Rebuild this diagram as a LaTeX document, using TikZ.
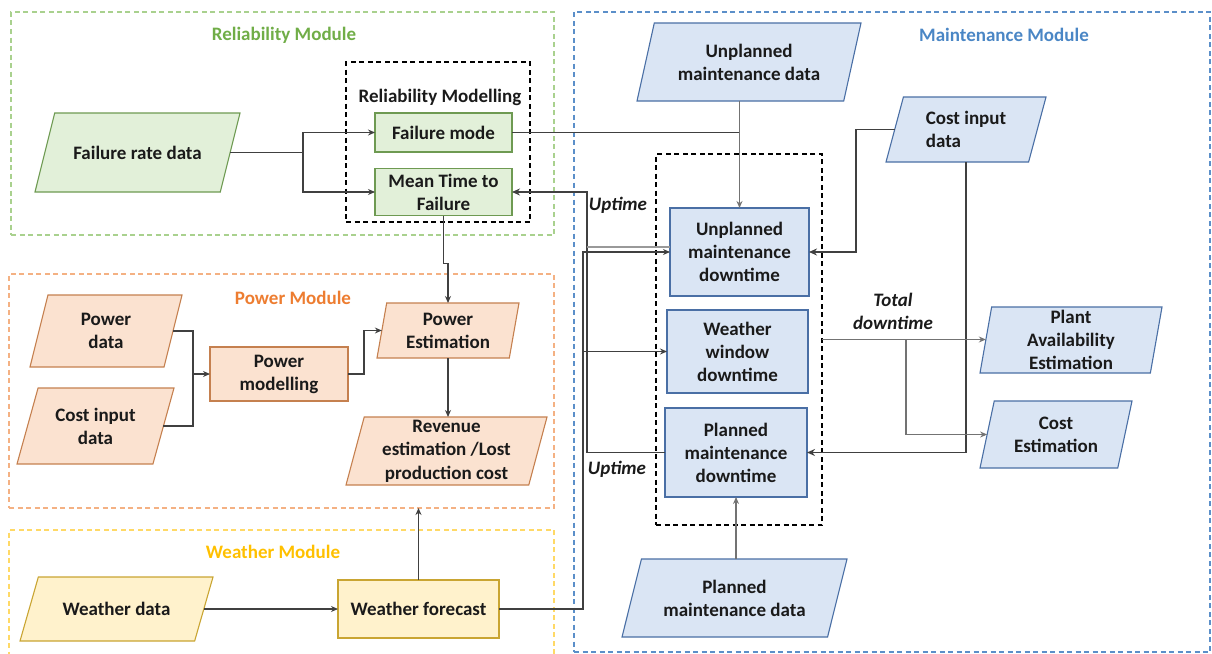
\documentclass[tikz,border=0pt]{standalone}
\usepackage{fontspec}
\setmainfont{Carlito}
\usetikzlibrary{shapes.geometric,arrows.meta,calc}

% fills and outlines of the four modules
\definecolor{grnF}{HTML}{E2F0D9}\definecolor{grnD}{HTML}{6E9A52}\definecolor{grnT}{HTML}{70AD47}\definecolor{grnM}{HTML}{A9D18E}
\definecolor{orgF}{HTML}{FBE2D0}\definecolor{orgD}{HTML}{C5804F}\definecolor{orgT}{HTML}{ED7D31}\definecolor{orgM}{HTML}{F4B183}
\definecolor{ylwF}{HTML}{FFF2CC}\definecolor{ylwD}{HTML}{C9A532}\definecolor{ylwT}{HTML}{FFC000}\definecolor{ylwM}{HTML}{FFD966}
\definecolor{bluF}{HTML}{DAE5F4}\definecolor{bluD}{HTML}{4A6FA5}\definecolor{bluT}{HTML}{4A86C5}\definecolor{bluM}{HTML}{5B8FC9}
\definecolor{wireC}{HTML}{404040}
\definecolor{inkC}{HTML}{1A1A1A}

\begin{document}
\begin{tikzpicture}[x=1pt,y=-1pt,
  txt/.style={font=\fontsize{19}{23}\selectfont\bfseries, text=inkC, align=center},
  base/.style={txt, inner sep=1pt, outer sep=0pt, line width=1.1pt},
  % data parallelogram: slant angle, overall width, half height
  para/.style n args={3}{trapezium, trapezium left angle=#1, trapezium right angle=180-#1,
               trapezium stretches body=true, minimum width=#2,
               text height=#3pt, text depth=#3pt, inner ysep=0pt, inner xsep=0pt},
  grn/.style={base, draw=grnD, fill=grnF},
  org/.style={base, draw=orgD, fill=orgF},
  ylw/.style={base, draw=ylwD, fill=ylwF},
  blu/.style={base, draw=bluD, fill=bluF},
  module/.style={draw=#1, rectangle, dash pattern=on 5pt off 3.5pt, line width=1.1pt,
                 inner sep=0pt, outer sep=0pt},
  title/.style={txt, text=#1},
  wire/.style={draw=wireC, line width=1.1pt},
  heavy/.style={wire, line width=1.7pt},
  arr/.style={wire, -{Stealth[length=7pt,width=6pt]}},
  harr/.style={heavy, -{Stealth[length=8pt,width=7pt]}},
  lbl/.style={txt, font=\fontsize{19}{23}\selectfont\bfseries\itshape}
]
\useasboundingbox (0,0) rectangle (1212,653);
\clip (0,0) rectangle (1212,653);

% ---- module frames ----
\node[module=grnM, minimum width=543, minimum height=223] (relbox) at (282.5,123.5) {};
\node[module=bluM, minimum width=636, minimum height=640] (mntbox) at (892,332) {};
\node[module=orgM, minimum width=545, minimum height=234] (powbox) at (281.5,391) {};
\node[module=ylwM, minimum width=545, minimum height=140] (weabox) at (281.5,600) {};
\node[module=black, minimum width=184, minimum height=160] (rmbox) at (438,142) {};
\node[module=black, minimum width=166, minimum height=371] (dtbox) at (739,339.5) {};

% ---- module titles ----
\node[title=grnT] (tRel) at (284,35) {Reliability Module};
\node[title=bluT] (tMnt) at (1004,35) {Maintenance Module};
\node[title=orgT] (tPow) at (293,298) {Power Module};
\node[title=ylwT] (tWea) at (273,552) {Weather Module};
\node[txt] (tRM) at (440,97) {Reliability Modelling};

% ---- reliability module ----
\node[grn, para={76}{205}{39.5}, label={[txt]center:Failure rate data}] (frd) at (137.5,152.5) {};
\node[grn, minimum width=137, minimum height=39] (fm) at (443.5,132.5) {Failure mode};
\node[grn, minimum width=137, minimum height=47] (mttf) at (443.5,192) {Mean Time to\\Failure};

% ---- power module ----
\node[org, para={76}{152}{36}, label={[txt]center:{Power\\data}}] (pd) at (106,331) {};
\node[org, para={74.5}{157}{38}, label={[txt]center:{Cost input\\data}}] (cid) at (95.5,426) {};
\node[org, minimum width=138, minimum height=54] (pm) at (279,374) {Power\\modelling};
\node[org, para={80}{142}{27.5}, label={[txt]center:{Power\\Estimation}}] (pe) at (448,330.5) {};
\node[org, para={75}{201}{34}, label={[txt]center:{Revenue\\[0.5pt]estimation /Lost\\[0.5pt]production cost}}] (rev) at (446.5,451) {};

% ---- weather module ----
\node[ylw, para={74}{193}{32}, label={[txt]center:Weather data}] (wd) at (116.5,609) {};
\node[ylw, minimum width=161, minimum height=58] (wf) at (418.5,609) {Weather forecast};

% ---- maintenance module ----
\node[blu, para={77.5}{224}{39}, label={[txt]center:{Unplanned\\maintenance data}}] (umd) at (749,62) {};
\node[blu, para={75}{160}{32.5}, label={[txt, align=left]center:{Cost input\\data}}] (cin) at (966,129.5) {};
\node[blu, minimum width=139, minimum height=88] (umdt) at (739.5,252) {Unplanned\\maintenance\\downtime};
\node[blu, minimum width=141, minimum height=83] (wwd) at (737.5,351.5) {Weather\\window\\downtime};
\node[blu, minimum width=142, minimum height=89] (pmdt) at (736,452.5) {Planned\\maintenance\\downtime};
\node[blu, para={80}{182}{33}, label={[txt]center:{Plant\\Availability\\Estimation}}] (pae) at (1071,340) {};
\node[blu, para={78}{152}{33.5}, label={[txt]center:{Cost\\Estimation}}] (ce) at (1056,434.5) {};
\node[blu, para={76}{225}{39}, label={[txt]center:{Planned\\maintenance data}}] (pmd) at (734.5,598) {};

% ---- connector labels ----
\node[lbl] (up1) at (618,205) {Uptime};
\node[lbl] (up2) at (617,469) {Uptime};
\node[lbl] (tot) at (893,311) {Total\\downtime};

% ---- junction points ----
\coordinate (fsplit) at (303,152.5);
\coordinate (pjoin) at (193,374);
\coordinate (wbus) at (583,0);
\coordinate (ubus) at (587,0);
\coordinate (cbus) at (856,0);
\coordinate (tbus) at (906,339.5);
\coordinate (umdtup) at ([yshift=5pt]umdt.west);

% ---- reliability flows ----
\draw[wire] (frd.east) -- (fsplit);
\draw[arr] (fsplit) |- (fm.west);
\draw[arr] (fsplit) |- (mttf.west);
\draw[wire] (fm.east) -- (fm.east -| umdt.north);
\draw[arr, draw=black!55] (umd.south -| umdt.north) -- (umdt.north);
\draw[arr] (mttf.south) -- ++(0,48) -| (pe.north);

% ---- power flows ----
\draw[wire] (pd.east) -| (pjoin);
\draw[wire] (cid.east) -| (pjoin);
\draw[arr] (pjoin) -- (pm.west);
\draw[arr] (pm.east) -- ++(16,0) |- (pe.west);
\draw[arr] (pe.south) -- (pe.south |- rev.north);

% ---- weather flows ----
\draw[arr] (wd.east) -- (wf.west);
\draw[arr] (wf.north) -- (wf.north |- powbox.south);
\draw[arr] (wf.east) -| (wbus |- umdt.west) -- (umdt.west);
\draw[arr] (wbus |- wwd.west) -- (wwd.west);

% ---- uptime feedback ----
\draw[harr] (pmdt.west) -| (ubus |- mttf.east) -- (mttf.east);
\draw[wire, draw=black!40] (umdtup) -- (ubus |- umdtup);

% ---- cost inputs ----
\draw[harr] (cin.west) -| (cbus |- umdt.east) -- (umdt.east);
\draw[harr] (cin.south) |- (pmdt.east);

% ---- outputs ----
\draw[arr, draw=black!55] (dtbox.east) -- (dtbox.east -| pae.west);
\draw[arr, draw=black!55] (tbus) |- (ce.west);
\draw[arr, draw=black!55] (pmd.north -| pmdt.south) -- (pmdt.south);
\end{tikzpicture}
\end{document}
